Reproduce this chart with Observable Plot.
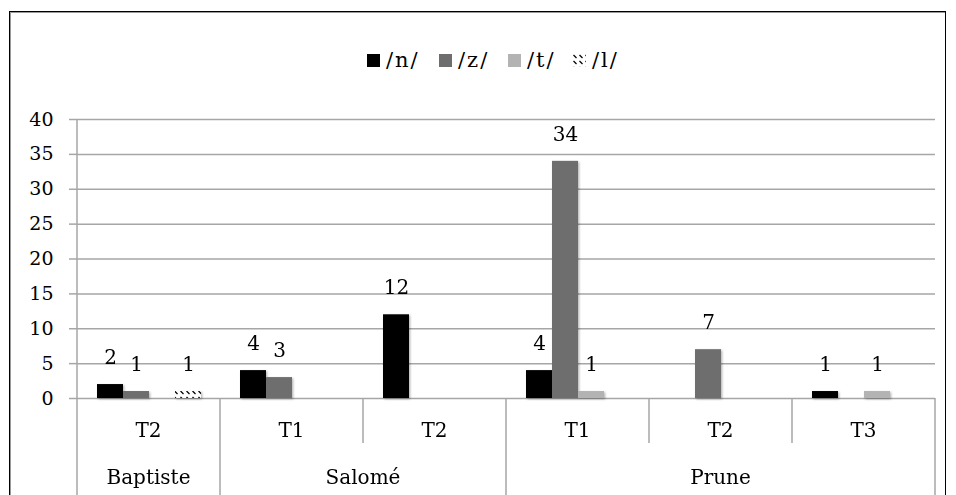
<!DOCTYPE html>
<html><head><meta charset="utf-8">
<script src="https://cdn.jsdelivr.net/npm/d3@7"></script>
<script src="https://cdn.jsdelivr.net/npm/@observablehq/plot@0.6"></script>
<style>
body{margin:0;background:#fff;}
#wrap{position:relative;width:956px;height:495px;overflow:hidden;font-family:"DejaVu Serif",serif;background:#fff;}
#frame{position:absolute;left:9px;top:11px;width:935px;height:600px;border:1.5px solid #000;box-shadow:inset 1px 1px 0 #9a9a9a;}
.item{position:absolute;top:48px;height:24px;line-height:24px;display:flex;align-items:center;font-size:21px;letter-spacing:2px;color:#000;}
.sw{width:13px;height:13px;margin-right:6px;display:block;}
#chart{position:absolute;left:0;top:0;}
#defs{position:absolute;width:0;height:0;}
</style></head>
<body>
<svg id="defs" width="0" height="0">
  <defs>
    <pattern id="hatchL" patternUnits="userSpaceOnUse" width="6" height="6">
      <rect width="6" height="6" fill="#fff"/>
      <path d="M0.5,1 L3.5,4" stroke="#000" stroke-width="1.3"/>
    </pattern>
    <filter id="shadow" x="-20%" y="-20%" width="150%" height="150%">
      <feDropShadow dx="1.2" dy="1.2" stdDeviation="1.2" flood-color="#000" flood-opacity="0.3"/>
    </filter>
  </defs>
</svg>
<div id="wrap"><div id="frame"></div><div id="legend"></div><div id="chart"></div></div>
<script>
// ---- data ----
const groups = ["Baptiste", "Salomé", "Salomé", "Prune", "Prune", "Prune"];
const times  = ["T2", "T1", "T2", "T1", "T2", "T3"];
const series = ["/n/", "/z/", "/t/", "/l/"];
const valuesN = [2, 4, 12, 4, 0, 1];
const valuesZ = [1, 3, 0, 34, 7, 0];
const valuesT = [0, 0, 0, 1, 0, 1];
const valuesL = [1, 0, 0, 0, 0, 0];
const yTicks = [0, 5, 10, 15, 20, 25, 30, 35, 40];
const colors = ["#000000", "#6e6e6e", "#b3b3b3", "url(#hatchL)"];

const keys = groups.map((g, i) => g + "|" + times[i]);
const allValues = [valuesN, valuesZ, valuesT, valuesL];
const data = [];
keys.forEach((k, i) => series.forEach((s, j) => data.push({key: k, series: s, value: allValues[j][i]})));

const W = 956, H = 495;
const plot = Plot.plot({
  width: W, height: H,
  marginTop: 119, marginBottom: 97, marginLeft: 77, marginRight: 21,
  style: {fontFamily: '"DejaVu Serif", serif', fontSize: "19px", background: "transparent", overflow: "visible"},
  fx: {domain: keys, padding: 0, axis: null},
  x: {domain: series, paddingInner: 0, paddingOuter: 0.73, axis: null},
  y: {domain: [0, 40], axis: null},
  color: {domain: series, range: colors},
  marks: [
    Plot.gridY({ticks: yTicks, stroke: "#a6a6a6", strokeOpacity: 1, strokeWidth: 1.5}),
    Plot.axisY({ticks: yTicks, label: null, tickSize: 8, tickPadding: 16, stroke: "#a6a6a6", strokeWidth: 1.5, strokeOpacity: 1, fill: "#000", fontSize: 19}),
    Plot.barY(data, {fx: "key", x: "series", y: "value", fill: "series"}),
    Plot.text(data.filter(d => d.value > 0), {fx: "key", x: "series", y: "value", text: d => String(d.value), dy: -27, fontSize: 20, fill: "#000"})
  ]
});
document.getElementById("chart").appendChild(plot);

const svg = d3.select(plot);
svg.selectAll('g[aria-label="bar"]').attr("filter", "url(#shadow)");

let fx = plot.scale("fx");
const y = plot.scale("y");
const fxApply = fx ? (k => fx.apply(k)) : d3.scaleBand(keys, [77, W - 21]);
const bw = fx ? fx.bandwidth : (W - 98) / keys.length;
const y0 = y.apply(0), yTop = y.apply(40);

const g = svg.append("g").attr("stroke", "#a6a6a6").attr("stroke-width", 1.5);
keys.forEach((k, i) => {
  const x0 = fxApply(k);
  const start = i === 0 || groups[i] !== groups[i - 1];
  g.append("line").attr("x1", x0).attr("x2", x0)
    .attr("y1", i === 0 ? yTop : y0).attr("y2", start ? H : y0 + 45);
});
const xEnd = fxApply(keys[keys.length - 1]) + bw;
g.append("line").attr("x1", xEnd).attr("x2", xEnd).attr("y1", y0).attr("y2", H);

const tg = svg.append("g").attr("font-size", 20).attr("fill", "#000").attr("text-anchor", "middle");
keys.forEach((k, i) => {
  tg.append("text").attr("x", fxApply(k) + bw / 2).attr("y", y0 + 39).text(times[i]);
});
const uniq = [...new Set(groups)];
uniq.forEach(name => {
  const idx = keys.filter((k, i) => groups[i] === name);
  const a = fxApply(idx[0]), b = fxApply(idx[idx.length - 1]) + bw;
  tg.append("text").attr("x", (a + b) / 2).attr("y", y0 + 86).text(name);
});

// legend
const legendX = [367, 439, 508, 573];
const leg = document.getElementById("legend");
series.forEach((s, j) => {
  const it = document.createElement("div");
  it.className = "item";
  it.style.left = legendX[j] + "px";
  it.innerHTML = `<svg class="sw" width="13" height="13"><rect width="13" height="13" fill="${colors[j]}"/></svg><span>${s}</span>`;
  leg.appendChild(it);
});
</script>
</body></html>
